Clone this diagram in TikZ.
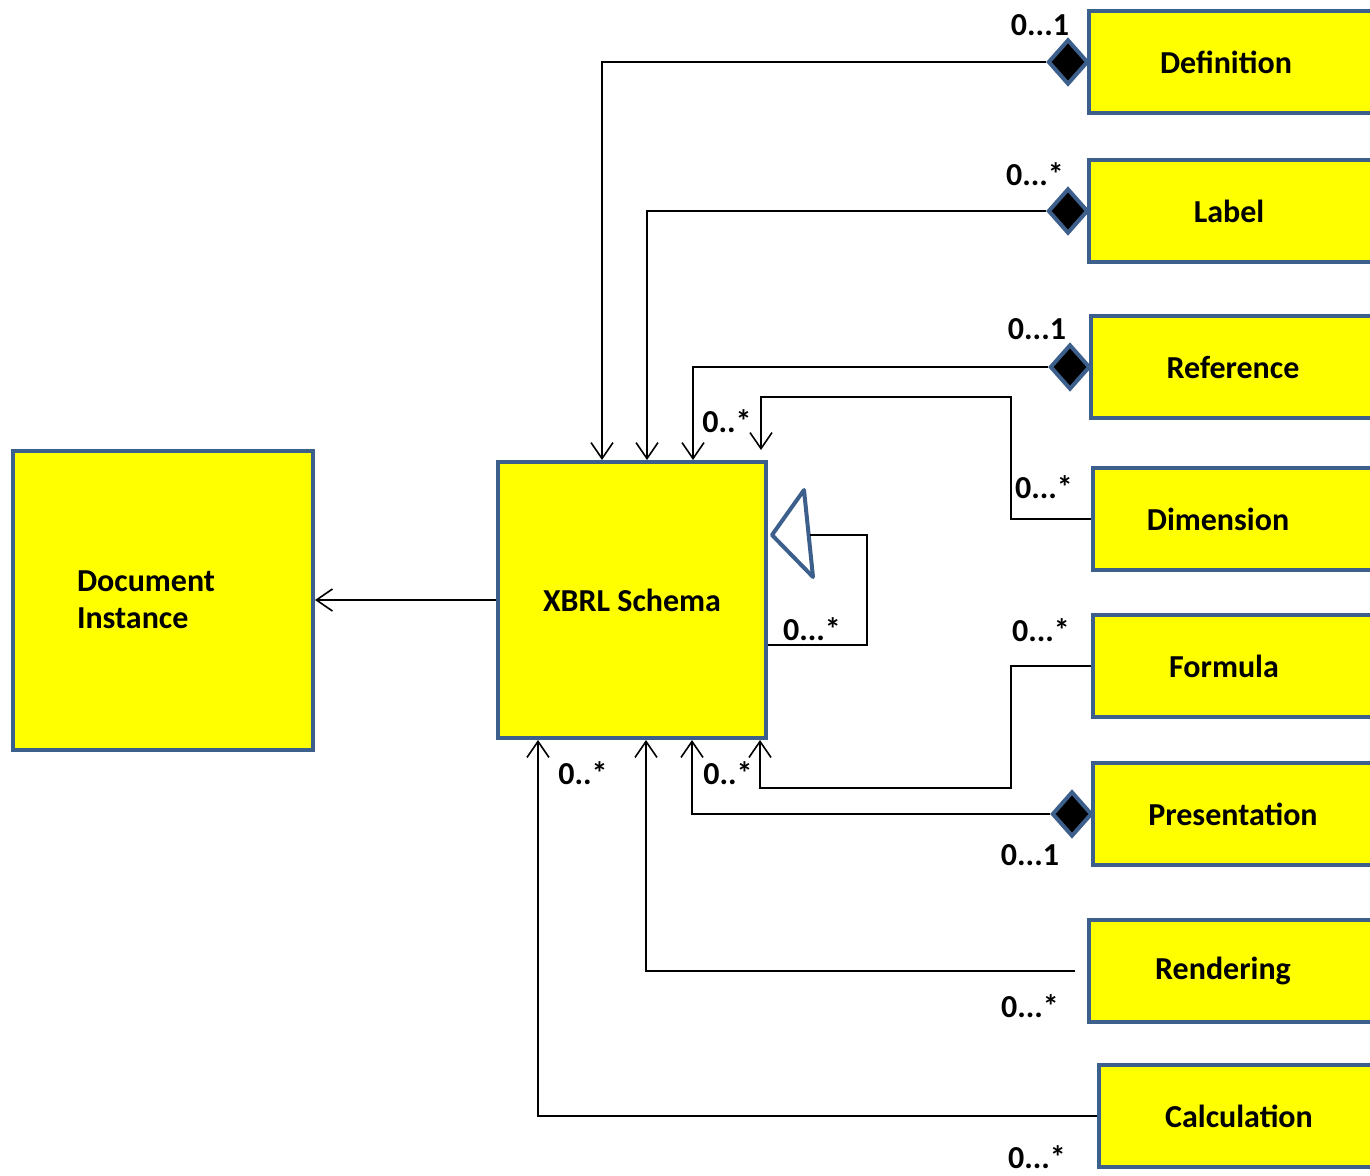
\documentclass[tikz,border=0pt]{standalone}
\usepackage{fontspec}
\setmainfont{Carlito}
\usetikzlibrary{arrows.meta,positioning,shapes.geometric}
\definecolor{umlblue}{RGB}{60,95,140}
\definecolor{umlyellow}{RGB}{255,255,0}
\tikzset{
  cls/.style={draw=umlblue, fill=umlyellow, line width=4pt, minimum height=102pt,
    minimum width=284pt, anchor=west, inner sep=0pt, font=\fontsize{32}{37}\selectfont\bfseries},
  agg/.style={diamond, draw=umlblue, fill=black, line width=4pt, minimum width=40pt,
    minimum height=45pt, inner sep=0pt},
  assoc/.style={line width=1.6pt, -{Straight Barb[length=16pt,width=22pt]}},
  link/.style={line width=1.6pt},
  mult/.style={inner sep=0pt, font=\fontsize{32}{36}\selectfont\bfseries},
}
\begin{document}
\begin{tikzpicture}[x=1pt, y=-1pt]
    \useasboundingbox (0,0) rectangle (1370,1175);
    % main classes
    \node[cls, anchor=center, minimum width=300pt, minimum height=299pt, text width=172pt, align=left] (doc) at (163,600) {Document\\Instance};
    \node[cls, anchor=center, minimum width=268pt, minimum height=276pt] (xbrl) at (632,600) {XBRL Schema};
    % linkbases on the right
    \node[cls] (def) at (1087,62) {Definition\kern10pt};
    \node[cls] (lab) at (1087,211) {Label\kern4pt};
    \node[cls] (ref) at (1089,367) {Reference};
    \node[cls] (dim) at (1091,519) {Dimension\kern34pt};
    \node[cls] (form) at (1091,666) {Formula\kern22pt};
    \node[cls] (pres) at (1091,814) {Presentation\kern4pt};
    \node[cls] (rend) at (1087,971) {Rendering\kern16pt};
    \node[cls] (calc) at (1097,1116) {Calculation\kern4pt};
    % aggregation diamonds
    \node[agg, left=-3pt of def] (defAgg) {};
    \node[agg, left=-3pt of lab] (labAgg) {};
    \node[agg, left=-3pt of ref] (refAgg) {};
    \node[agg, left=-3pt of pres] (presAgg) {};
    % connectors into the top of the schema
    \draw[assoc] (defAgg.west) -| ([xshift=-30pt]xbrl.north);
    \draw[assoc] (labAgg.west) -| ([xshift=15pt]xbrl.north);
    \draw[assoc] (refAgg.west) -| ([xshift=61pt]xbrl.north);
    \coordinate (dimEnd) at ([xshift=129pt, yshift=10pt]xbrl.north);
    \draw[assoc] (dim.west) -- ++(-80,0) |- ([yshift=53pt]dimEnd) -- (dimEnd);
    % connectors into the bottom of the schema
    \coordinate (formEnd) at ([xshift=128pt]xbrl.south);
    \draw[assoc] (form.west) -- ++(-80,0) |- ([yshift=-48pt]formEnd) -- (formEnd);
    \draw[assoc] (presAgg.west) -| ([xshift=60pt]xbrl.south);
    \draw[assoc, shorten <=12pt] (rend.west) -| ([xshift=14pt]xbrl.south);
    \draw[assoc] (calc.west) -| ([xshift=-94pt]xbrl.south);
    % schema to instance
    \draw[assoc] (xbrl.west) -- (doc.east);
    % self generalization
    \coordinate (gen) at ([xshift=4pt, yshift=65pt]xbrl.east);
    \draw[umlblue, line width=4pt, line join=round, fill=white] (gen) -- ++(32,-45) -- ++(9,87) -- cycle;
    \draw[link] ([xshift=38pt]gen) -- ++(57,0) |- ([yshift=-45pt]xbrl.east);
    % multiplicities
    \node[mult] (mDef) at (1040,25) {0...1};
    \node[mult] (mLab) at (1035,174) {0...*};
    \node[mult] (mRef) at (1037,329) {0...1};
    \node[mult] (mDimTop) at (727,421) {0..*};
    \node[mult] (mDim) at (1044,487) {0...*};
    \node[mult] (mSelf) at (812,629) {0...*};
    \node[mult] (mForm) at (1041,630) {0...*};
    \node[mult] (mCalcBot) at (583,773) {0..*};
    \node[mult] (mFormBot) at (728,773) {0..*};
    \node[mult] (mPres) at (1030,855) {0...1};
    \node[mult] (mRend) at (1030,1006) {0...*};
    \node[mult] (mCalc) at (1037,1157) {0...*};
\end{tikzpicture}
\end{document}
